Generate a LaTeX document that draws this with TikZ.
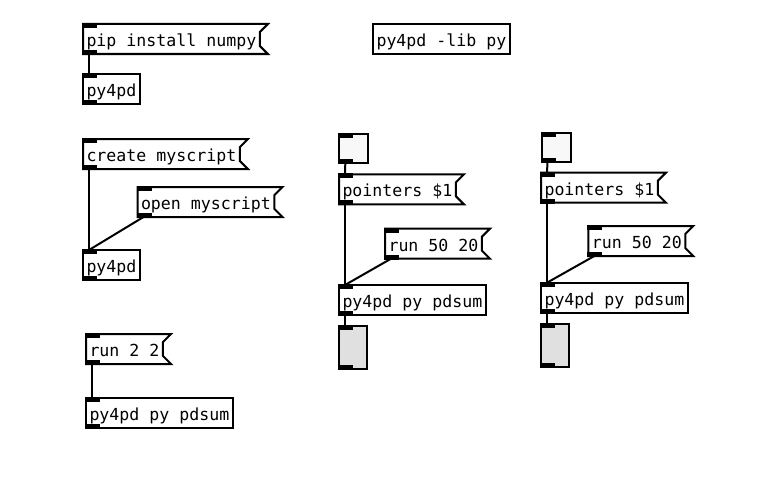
\documentclass[tikz,border=0pt]{standalone}
\usepackage{fontspec}
\newfontfamily\pdfont{DejaVu Sans Mono}
\definecolor{boxfill}{HTML}{F8F8F8}
\definecolor{grayfill}{HTML}{E0E0E0}
\begin{document}
\begin{tikzpicture}[x=1pt,y=-1pt,
  base/.style={anchor=north west, line width=2pt, outer sep=0pt, inner xsep=3.5pt, inner ysep=0pt,
    minimum height=30pt, font=\pdfont\fontsize{16.6pt}{20pt}\selectfont, text height=15pt, text depth=0pt},
  obj/.style={base, draw=black},
  msg/.style={base},
  atom/.style={base, draw=black, fill=boxfill, minimum width=29pt, minimum height=29pt},
  numbox/.style={base, draw=black, fill=grayfill, minimum width=28pt, minimum height=43pt},
  wire/.style={line width=2pt},
  flag/.style={line width=2pt, line join=miter}]
\fill[white] (0,0) rectangle (767,487);
\useasboundingbox (0,0) rectangle (767,487);

% left column
\node[msg] (pip) at (83,24) {pip install numpy};
\node[obj] (pyA) at (83,74) {py4pd};
\node[obj] (lib) at (373,24) {py4pd -lib py};
\node[msg] (create) at (83,139) {create myscript};
\node[msg] (open) at (137.5,187) {open myscript};
\node[obj] (pyB) at (83,250) {py4pd};
\node[msg] (runA) at (86,334) {run 2 2};
\node[obj] (sumA) at (86,398) {py4pd py pdsum};

% middle column
\node[atom] (mbox) at (339.3,134.3) {};
\node[msg] (mptr) at (339,174.3) {pointers \$1};
\node[msg] (mrun) at (385,228.7) {run 50 20};
\node[obj] (msum) at (339,285) {py4pd py pdsum};
\node[numbox] (mnum) at (339,326) {};

% right column
\node[atom] (rbox) at (541.5,132.7) {};
\node[msg] (rptr) at (541,172.7) {pointers \$1};
\node[msg] (rrun) at (588.3,226) {run 50 20};
\node[obj] (rsum) at (541,282.7) {py4pd py pdsum};
\node[numbox] (rnum) at (541,324.3) {};

% message box outlines
\foreach \n in {pip,create,open,runA,mptr,mrun,rptr,rrun}{
  \draw[flag] (\n.north west) -- ([shift={(8,0)}]\n.north east) -- ([shift={(0,8)}]\n.north east)
    -- ([shift={(0,-8)}]\n.south east) -- ([shift={(8,0)}]\n.south east) -- (\n.south west) -- cycle;
}

% connections
\draw[wire] ([shift={(6,0)}]pip.south west) -- ([shift={(6,0)}]pyA.north west);
\draw[wire] ([shift={(6,0)}]create.south west) -- ([shift={(6,0)}]pyB.north west);
\draw[wire] ([shift={(6,0)}]open.south west) -- ([shift={(6,0)}]pyB.north west);
\draw[wire] ([shift={(6,0)}]runA.south west) -- ([shift={(6,0)}]sumA.north west);
\draw[wire] ([shift={(6,0)}]mbox.south west) -- ([shift={(6,0)}]mptr.north west);
\draw[wire] ([shift={(6,0)}]mptr.south west) -- ([shift={(6,0)}]msum.north west);
\draw[wire] ([shift={(6,0)}]mrun.south west) -- ([shift={(6,0)}]msum.north west);
\draw[wire] ([shift={(6,0)}]msum.south west) -- ([shift={(6,0)}]mnum.north west);
\draw[wire] ([shift={(6,0)}]rbox.south west) -- ([shift={(6,0)}]rptr.north west);
\draw[wire] ([shift={(6,0)}]rptr.south west) -- ([shift={(6,0)}]rsum.north west);
\draw[wire] ([shift={(6,0)}]rrun.south west) -- ([shift={(6,0)}]rsum.north west);
\draw[wire] ([shift={(6,0)}]rsum.south west) -- ([shift={(6,0)}]rnum.north west);

% inlets and outlets
\foreach \n in {pip,pyA,create,open,pyB,runA,sumA,mbox,mptr,mrun,msum,mnum,rbox,rptr,rrun,rsum,rnum}{
  \fill[black] ([shift={(-1,-1)}]\n.north west) rectangle ([shift={(14,4)}]\n.north west);
  \fill[black] ([shift={(-1,1)}]\n.south west) rectangle ([shift={(14,-4)}]\n.south west);
}
\end{tikzpicture}
\end{document}
